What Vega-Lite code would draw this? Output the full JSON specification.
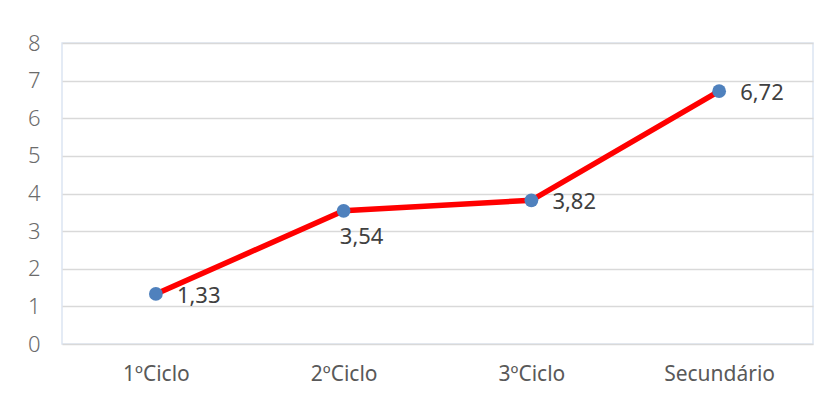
{
  "$schema": "https://vega.github.io/schema/vega-lite/v6.json",
  "autosize": {"type": "none"},
  "width": 751,
  "height": 301,
  "padding": {"left": 62, "top": 43, "right": 16, "bottom": 54},
  "background": "white",
  "config": {
    "font": "Noto Sans",
    "view": {"stroke": "#dce5f2", "strokeWidth": 1.5}
  },
  "data": {
    "values": [
      {"ciclo": "1ºCiclo", "valor": 1.33, "rotulo": "1,33"},
      {"ciclo": "2ºCiclo", "valor": 3.54, "rotulo": "3,54"},
      {"ciclo": "3ºCiclo", "valor": 3.82, "rotulo": "3,82"},
      {"ciclo": "Secundário", "valor": 6.72, "rotulo": "6,72"}
    ]
  },
  "encoding": {
    "x": {
      "field": "ciclo",
      "type": "nominal",
      "sort": null,
      "scale": {"paddingInner": 0, "paddingOuter": 0, "align": 0.5},
      "axis": {
        "title": null,
        "labelAngle": 0,
        "labelFontSize": 21,
        "labelColor": "#595959",
        "labelPadding": 19,
        "ticks": false,
        "domain": false
      }
    },
    "y": {
      "field": "valor",
      "type": "quantitative",
      "scale": {"domain": [0, 8], "nice": false},
      "axis": {
        "title": null,
        "values": [0, 1, 2, 3, 4, 5, 6, 7, 8],
        "labelOverlap": false,
        "labelFontSize": 22,
        "labelFontWeight": 300,
        "labelColor": "#6b6b6b",
        "labelPadding": 22,
        "ticks": false,
        "domain": false,
        "gridColor": "#d9d9d9",
        "gridWidth": 1.5
      }
    }
  },
  "layer": [
    {
      "mark": {"type": "line", "color": "#ff0000", "strokeWidth": 5.5}
    },
    {
      "mark": {"type": "point", "filled": true, "opacity": 1, "color": "#4f81bd", "size": 190}
    },
    {
      "transform": [{"filter": "datum.ciclo !== '2ºCiclo'"}],
      "mark": {"type": "text", "align": "left", "baseline": "middle", "dx": 21, "dy": 2, "fontSize": 22, "color": "#404040"},
      "encoding": {"text": {"field": "rotulo"}}
    },
    {
      "transform": [{"filter": "datum.ciclo === '2ºCiclo'"}],
      "mark": {"type": "text", "align": "center", "baseline": "top", "dx": 18, "dy": 16, "fontSize": 22, "color": "#404040"},
      "encoding": {"text": {"field": "rotulo"}}
    }
  ]
}
